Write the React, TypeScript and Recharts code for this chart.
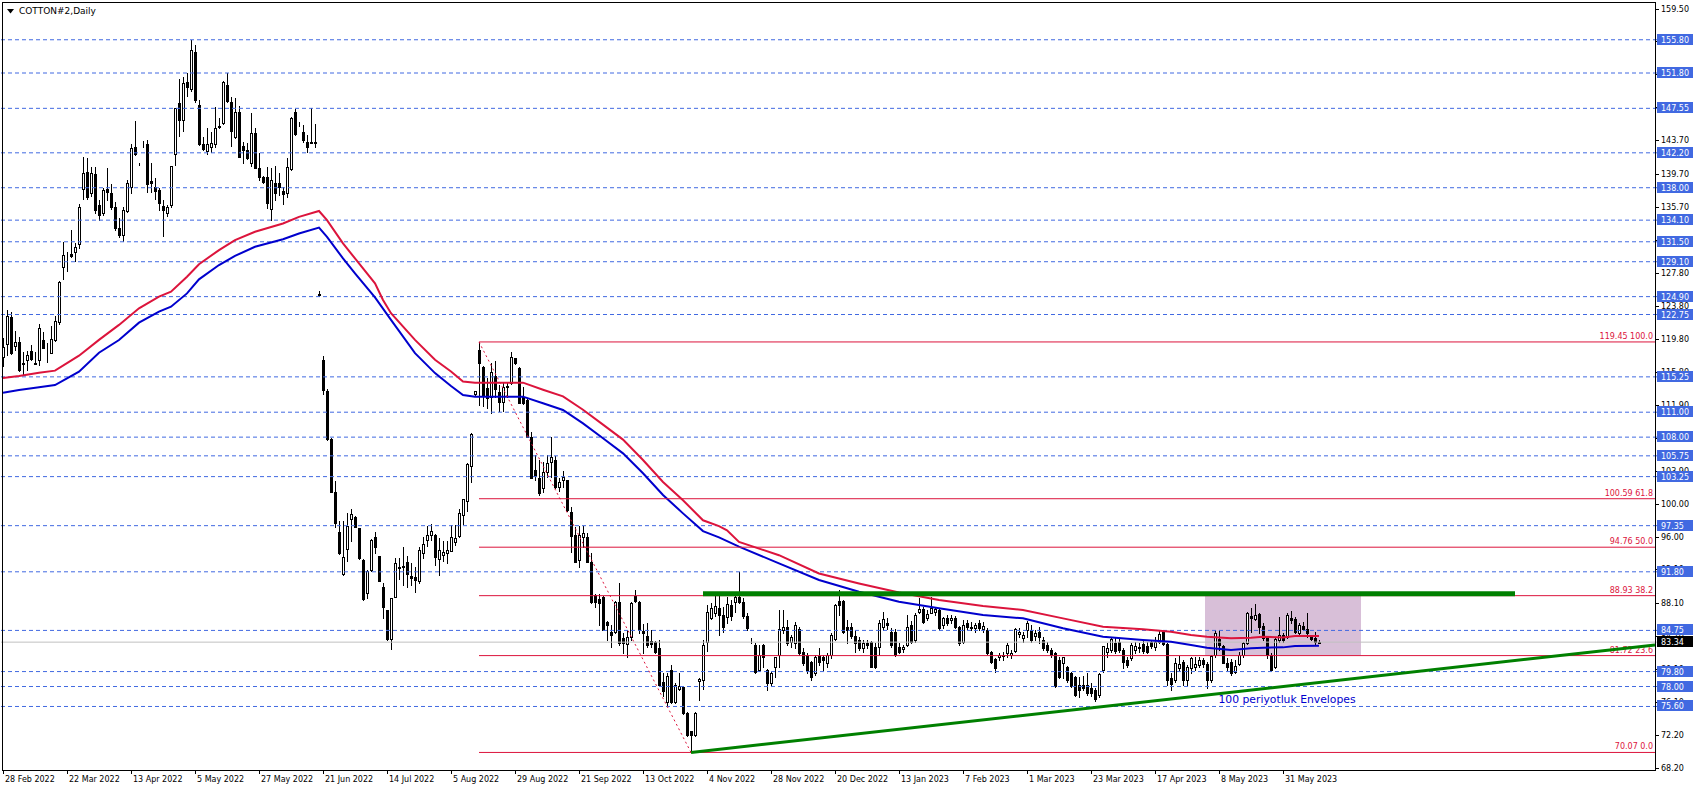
import React from 'react';
import {
  Bar,
  ComposedChart,
  Line,
  ReferenceArea,
  ReferenceDot,
  ReferenceLine,
  XAxis,
  YAxis,
} from 'recharts';

type Ohlc = [number, number, number, number];

// daily candles, [open, high, low, close]
const spring2022: Ohlc[] = [
  [117.6, 119.88, 116.55, 118.8], [119.16, 123.29, 117.88, 122.57], [122.41, 123.09, 118.0, 118.08], [119.0, 120.8, 118.48, 119.4],
  [119.4, 120.0, 116.0, 116.07], [116.9, 118.28, 115.47, 116.8], [117.28, 118.36, 116.07, 117.88], [118.36, 119.08, 117.3, 117.4],
  [116.9, 118.28, 116.8, 116.85], [117.28, 121.6, 116.67, 121.08], [119.68, 120.68, 118.68, 118.76], [118.6, 119.3, 117.0, 118.55],
  [118.16, 121.36, 118.1, 119.76], [119.68, 122.57, 119.56, 121.97], [121.8, 126.75, 121.6, 126.7], [128.5, 131.51, 126.98, 129.87],
  [130.0, 130.31, 128.02, 130.05], [130.0, 132.91, 129.71, 129.8], [130.23, 131.31, 129.18, 130.91], [131.2, 136.0, 130.8, 135.7],
  [137.81, 141.74, 136.6, 139.81], [139.93, 141.53, 136.6, 136.92], [137.33, 140.5, 137.0, 139.73], [139.65, 140.53, 134.92, 135.32],
  [135.92, 136.52, 134.12, 134.72], [134.92, 138.0, 134.7, 137.73], [137.85, 140.33, 136.52, 137.45], [137.41, 138.5, 135.5, 135.72],
  [135.64, 136.32, 132.91, 133.11], [133.11, 134.32, 132.11, 132.27], [132.31, 135.72, 131.63, 135.32], [135.24, 138.93, 135.12, 138.53],
  [138.05, 143.26, 137.33, 142.74], [142.94, 146.03, 141.94, 142.06], [140.85, 140.95, 140.7, 140.8], [143.05, 143.66, 142.9, 143.0],
  [143.22, 143.74, 137.53, 138.41], [138.81, 140.93, 137.53, 138.61], [138.13, 139.21, 136.6, 137.65], [137.73, 138.01, 135.32, 136.2],
];

const summer2022: Ohlc[] = [
  [135.8, 136.52, 132.23, 135.32], [135.0, 135.92, 134.64, 135.64], [135.92, 140.65, 135.72, 140.61], [142.02, 147.6, 140.73, 147.55],
  [148.15, 151.04, 144.22, 146.15], [146.1, 151.36, 144.86, 150.56], [150.76, 151.76, 149.07, 150.07], [149.83, 155.77, 149.63, 154.57],
  [154.37, 155.17, 148.35, 148.55], [147.95, 148.55, 143.14, 143.26], [143.26, 144.14, 142.54, 142.66], [142.46, 145.14, 142.06, 143.26],
  [142.94, 144.66, 142.26, 143.34], [143.26, 147.75, 142.94, 145.14], [145.3, 146.35, 145.14, 145.4], [145.74, 150.8, 145.7, 150.76],
  [150.36, 151.84, 148.35, 148.47], [148.27, 148.95, 143.02, 144.86], [144.06, 148.75, 144.0, 147.15], [147.15, 147.87, 141.7, 141.74],
  [143.02, 143.54, 141.01, 142.54], [142.54, 143.34, 141.5, 141.53], [140.93, 146.95, 140.61, 144.54], [144.54, 145.14, 140.33, 140.41],
  [140.41, 142.14, 138.93, 139.25], [139.25, 139.41, 138.6, 138.65], [139.25, 140.53, 135.52, 136.12], [135.4, 140.33, 134.12, 138.93],
  [138.53, 140.65, 136.52, 137.41], [138.61, 139.73, 137.12, 138.13], [137.65, 138.13, 136.04, 137.25], [137.33, 141.53, 136.92, 140.53],
  [140.21, 146.55, 140.13, 146.43], [147.15, 147.43, 144.34, 144.46], [145.8, 145.94, 145.42, 145.74], [144.66, 145.54, 143.46, 143.74],
  [143.54, 144.34, 142.34, 142.94], [143.5, 147.55, 143.34, 143.4], [143.5, 145.66, 142.94, 143.4], [125.1, 125.6, 125.0, 125.2],
];

const crash2022: Ohlc[] = [
  [117.28, 117.76, 113.19, 113.67], [113.59, 113.75, 107.7, 107.73], [107.73, 107.86, 101.4, 101.44], [101.36, 102.72, 97.23, 97.71],
  [96.55, 97.95, 94.0, 94.02], [91.5, 97.95, 91.45, 93.54], [94.5, 98.91, 93.14, 97.35], [98.11, 99.31, 95.55, 98.71],
  [98.43, 98.5, 97.2, 97.23], [97.03, 97.1, 93.4, 93.42], [93.22, 93.3, 88.45, 88.49], [89.21, 92.0, 88.61, 91.94],
  [92.02, 95.7, 91.94, 95.63], [96.03, 96.55, 94.02, 94.82], [93.7, 93.75, 90.7, 90.73], [89.93, 90.5, 86.2, 87.53],
  [87.2, 87.25, 83.6, 83.68], [83.68, 88.65, 82.47, 88.61], [88.81, 93.42, 88.75, 92.82], [92.2, 93.42, 90.98, 92.4],
  [92.5, 94.74, 90.21, 92.4], [92.94, 93.7, 90.01, 91.54], [91.3, 92.82, 90.21, 91.0], [91.2, 92.42, 89.41, 90.8],
  [90.73, 94.82, 90.5, 94.42], [94.02, 95.94, 93.42, 95.1], [95.63, 97.31, 94.9, 96.23], [96.23, 97.55, 95.63, 96.71],
  [96.23, 96.3, 92.62, 93.62], [93.3, 95.83, 91.42, 94.42], [93.82, 95.55, 93.14, 94.14], [94.02, 95.55, 92.82, 94.42],
  [94.34, 97.43, 94.3, 95.94], [95.43, 97.43, 95.03, 95.83], [96.15, 99.31, 95.94, 98.91], [98.63, 100.6, 97.55, 100.52],
  [100.36, 104.85, 99.15, 104.77], [104.53, 108.46, 102.64, 108.42], [113.19, 113.6, 112.9, 113.55], [118.48, 119.45, 111.87, 116.88],
];

const autumn2022: Ohlc[] = [
  [116.48, 116.5, 111.74, 113.07], [113.87, 115.07, 111.46, 112.67], [112.87, 116.88, 110.94, 115.87], [115.35, 117.16, 112.87, 113.75],
  [113.47, 114.27, 111.18, 112.27], [112.27, 114.47, 111.18, 113.99], [114.07, 114.67, 112.87, 114.17], [114.47, 118.28, 114.4, 117.68],
  [117.48, 117.5, 116.8, 116.88], [116.36, 116.4, 112.1, 112.15], [112.87, 113.99, 112.0, 112.07], [112.47, 112.67, 108.0, 108.06],
  [108.06, 108.66, 103.1, 103.12], [104.05, 105.85, 102.84, 103.33], [103.12, 105.25, 101.04, 101.32], [101.84, 105.05, 101.44, 103.85],
  [103.85, 105.85, 103.24, 104.93], [105.05, 108.06, 103.24, 105.65], [105.25, 105.73, 101.84, 102.04], [102.04, 103.04, 101.56, 102.64],
  [102.84, 103.96, 102.04, 103.24], [102.84, 102.9, 99.15, 99.24], [98.99, 99.63, 94.22, 96.11], [96.23, 97.23, 93.0, 93.02],
  [93.22, 97.31, 92.42, 96.23], [95.94, 97.31, 94.82, 96.43], [96.03, 96.43, 93.0, 93.02], [93.02, 94.02, 88.09, 88.21],
  [89.01, 89.13, 87.61, 88.21], [88.53, 89.13, 85.4, 88.09], [88.81, 88.85, 84.8, 84.84], [85.8, 85.85, 83.6, 85.4],
  [84.6, 85.4, 82.8, 84.2], [84.6, 88.3, 84.4, 88.21], [88.21, 90.41, 83.0, 83.28], [83.8, 84.4, 82.0, 83.2],
  [83.12, 84.8, 81.51, 83.92], [84.0, 88.2, 83.6, 88.09], [88.89, 89.61, 88.2, 88.33], [88.21, 88.3, 84.4, 84.8],
  [84.72, 85.52, 82.07, 84.4], [84.08, 85.68, 82.8, 82.99], [83.52, 84.8, 82.72, 83.12], [83.4, 83.52, 82.07, 82.2],
  [82.6, 83.6, 78.14, 78.18], [78.58, 79.59, 76.86, 77.5], [76.18, 79.67, 75.78, 79.27], [79.99, 80.59, 76.06, 76.18],
  [76.18, 78.38, 75.98, 78.18], [77.66, 79.59, 77.58, 78.06], [77.98, 78.0, 74.7, 74.77], [74.77, 74.97, 72.05, 72.17],
  [72.69, 72.7, 70.07, 72.17], [72.17, 74.9, 72.1, 74.85], [78.7, 78.98, 76.38, 78.86], [78.78, 83.6, 77.66, 82.99],
  [83.4, 87.81, 82.31, 87.01], [86.2, 88.09, 86.08, 87.41], [86.8, 89.21, 86.48, 87.69], [87.41, 89.21, 84.2, 86.6],
];

const winter2023: Ohlc[] = [
  [86.6, 87.6, 84.6, 85.2], [86.32, 88.81, 85.6, 87.93], [87.8, 88.4, 86.0, 86.5], [88.2, 89.0, 87.0, 88.8],
  [88.8, 91.8, 88.0, 88.2], [88.2, 88.6, 86.2, 86.5], [86.5, 86.8, 84.8, 85.0], [83.3, 83.8, 83.25, 83.35],
  [83.0, 83.2, 79.6, 79.8], [80.0, 83.0, 79.9, 81.8], [83.0, 83.1, 80.4, 81.6], [80.0, 80.1, 77.6, 78.4],
  [78.4, 79.8, 78.2, 79.6], [80.4, 81.6, 79.2, 81.6], [81.8, 87.2, 80.4, 84.9], [84.8, 87.2, 84.4, 85.2],
  [85.2, 86.0, 83.0, 83.2], [83.4, 84.2, 82.8, 84.0], [83.2, 85.8, 82.6, 85.4], [84.9, 85.2, 81.8, 82.0],
  [82.2, 82.6, 80.6, 80.8], [81.8, 82.0, 79.6, 80.0], [81.0, 81.1, 78.8, 79.2], [79.6, 81.8, 79.4, 81.6],
  [81.7, 82.6, 80.6, 81.0], [81.6, 81.8, 80.0, 81.2], [80.8, 82.0, 80.4, 81.8], [81.8, 84.4, 81.4, 84.2],
  [83.7, 87.9, 83.6, 87.8], [88.3, 89.6, 86.6, 87.8], [88.3, 88.4, 84.4, 84.6], [85.2, 86.0, 83.2, 84.8],
  [85.2, 85.6, 83.8, 84.1], [84.1, 84.8, 82.2, 83.2], [83.6, 84.0, 82.4, 82.6], [82.6, 83.6, 82.2, 83.2],
  [83.2, 83.6, 82.6, 83.0], [83.4, 83.5, 80.3, 80.4], [82.8, 83.2, 80.2, 80.4], [82.8, 86.0, 81.8, 85.6],
  [85.2, 87.0, 84.8, 86.1], [85.7, 86.3, 84.9, 85.4], [84.6, 85.0, 82.8, 83.0], [84.5, 84.9, 81.7, 81.8],
  [82.7, 83.2, 82.0, 82.2], [82.5, 83.0, 82.2, 82.7], [83.0, 86.6, 82.9, 85.2], [85.4, 85.9, 83.2, 83.4],
  [83.6, 86.8, 83.4, 86.6], [87.0, 88.6, 86.8, 87.3], [87.3, 87.6, 85.6, 85.8], [86.2, 87.2, 86.0, 86.7],
  [86.9, 88.8, 86.8, 87.4], [87.0, 87.6, 86.6, 87.3], [87.2, 87.4, 84.8, 85.0], [85.4, 86.4, 85.0, 86.2],
  [86.2, 86.6, 85.4, 85.6], [86.0, 86.6, 85.6, 86.3], [86.2, 86.5, 85.0, 85.2], [85.2, 85.3, 83.0, 83.2],
];

const spring2023: Ohlc[] = [
  [83.4, 86.0, 83.2, 85.4], [85.6, 86.0, 84.9, 85.2], [85.2, 85.8, 84.8, 85.1], [85.0, 85.6, 84.6, 85.4],
  [85.6, 86.0, 84.8, 85.0], [84.9, 85.8, 84.5, 85.3], [84.8, 85.0, 81.95, 82.0], [82.2, 82.3, 80.8, 81.0],
  [81.3, 81.4, 79.8, 80.2], [81.6, 82.0, 81.2, 81.8], [81.8, 82.2, 81.2, 81.7], [82.0, 83.2, 81.6, 83.0],
  [81.8, 82.4, 81.4, 82.0], [82.3, 85.0, 82.2, 84.9], [84.3, 85.0, 84.0, 84.6], [83.8, 84.6, 83.4, 84.2],
  [84.8, 85.9, 84.0, 85.6], [84.8, 85.4, 83.4, 83.6], [84.1, 84.8, 83.6, 84.4], [84.6, 85.2, 83.2, 84.0],
  [83.6, 84.0, 82.4, 82.6], [83.0, 83.4, 82.2, 82.4], [82.4, 82.6, 81.6, 81.8], [82.0, 82.1, 78.0, 78.1],
  [81.2, 81.6, 79.0, 79.2], [80.8, 81.6, 79.0, 81.6], [80.4, 80.5, 78.6, 78.8], [79.6, 79.8, 78.0, 78.05],
  [79.2, 79.3, 76.9, 77.0], [78.2, 79.2, 76.8, 77.6], [78.2, 79.3, 77.6, 77.8], [78.2, 79.6, 77.0, 77.2],
  [77.8, 78.4, 76.9, 77.2], [77.6, 77.8, 76.2, 76.5], [77.0, 79.6, 76.8, 79.55], [80.0, 82.9, 79.8, 82.85],
  [82.2, 83.2, 81.6, 82.6], [82.4, 83.8, 82.2, 83.7], [83.2, 84.0, 82.0, 82.3], [83.4, 83.8, 82.2, 82.4],
  [82.4, 82.6, 80.2, 81.0], [81.2, 81.6, 80.4, 80.6], [81.4, 83.2, 81.2, 83.0], [82.4, 83.4, 82.0, 82.9],
  [82.6, 83.2, 82.2, 82.8], [83.1, 83.6, 82.0, 82.3], [82.9, 83.3, 82.0, 82.1], [83.39, 83.6, 82.6, 82.87],
  [82.79, 83.99, 82.39, 83.39], [83.39, 84.79, 83.19, 84.27],
];

const recent2023: Ohlc[] = [
  [84.59, 84.79, 82.99, 83.11], [83.11, 83.2, 78.2, 78.78], [79.0, 79.6, 77.6, 78.3], [78.78, 81.39, 78.6, 80.78],
  [80.18, 81.67, 79.98, 80.66], [80.98, 81.2, 78.2, 78.78], [78.78, 80.6, 78.2, 80.38], [80.18, 81.6, 79.6, 81.39],
  [80.38, 81.51, 79.98, 80.7], [80.58, 81.59, 80.38, 81.18], [81.18, 81.4, 80.4, 80.7], [80.66, 81.0, 77.8, 78.78],
  [78.78, 81.8, 78.6, 81.67], [81.79, 84.79, 81.59, 84.39], [83.67, 84.79, 82.39, 82.99], [82.87, 82.99, 80.78, 80.86],
  [80.86, 81.39, 79.98, 80.38], [80.98, 81.3, 79.4, 79.58], [79.78, 81.18, 79.58, 80.46], [80.7, 82.19, 80.58, 81.79],
  [81.79, 83.39, 81.59, 83.27], [83.19, 87.0, 83.11, 86.88], [86.48, 87.48, 84.59, 86.2], [86.08, 87.92, 86.0, 86.6],
  [86.72, 86.88, 84.47, 85.11], [85.27, 85.6, 83.59, 83.79], [83.79, 83.99, 81.39, 81.79], [81.79, 81.99, 79.9, 79.98],
  [80.38, 83.79, 80.18, 83.67], [83.59, 86.4, 83.39, 84.19], [84.19, 84.39, 83.39, 83.59], [83.99, 86.88, 83.79, 86.6],
  [86.2, 87.12, 85.6, 86.0], [86.08, 86.4, 84.39, 84.59], [84.39, 85.6, 84.3, 85.39], [85.27, 85.8, 84.79, 84.87],
  [84.87, 86.88, 83.99, 84.47], [84.07, 84.2, 83.6, 83.67], [83.79, 84.59, 82.99, 83.39], [83.27, 83.6, 83.2, 83.34],
];

// 100-period envelopes, read at [bar, price]
const envUpper: [number, number][] = [
  [0, 115.1], [4, 115.35], [9, 115.75], [13, 116.0], [16, 116.9], [19, 117.8], [24, 119.7], [29, 121.5],
  [34, 123.5], [39, 124.9], [42, 125.5], [46, 127.3], [49, 128.8], [54, 130.5], [58, 131.7], [63, 132.7],
  [70, 133.7], [74, 134.5], [79, 135.2], [81, 134.1], [85, 131.3], [88, 129.5], [93, 126.5], [95, 124.5],
  [97, 122.9], [103, 119.7], [108, 117.3], [112, 115.9], [115, 114.7], [118, 114.55], [126, 114.55], [130, 114.55],
  [135, 113.7], [140, 112.9], [145, 111.3], [150, 109.5], [155, 107.7], [160, 105.25], [165, 102.6], [170, 100.4],
  [175, 98.0], [179, 97.3], [181, 96.8], [184, 95.4], [194, 93.8], [204, 91.6], [214, 90.4], [224, 89.3],
  [234, 88.4], [245, 87.7], [255, 87.2], [265, 86.2], [275, 85.2], [285, 84.9], [292, 84.6], [297, 84.2],
  [301, 84.0], [307, 83.8], [312, 83.87], [315, 84.0], [320, 83.9], [323, 84.07], [329, 84.07],
];

const envLower: [number, number][] = [
  [0, 113.35], [4, 113.67], [9, 113.99], [13, 114.27], [16, 115.07], [19, 115.87], [24, 118.16], [29, 119.68],
  [34, 121.77], [39, 123.09], [42, 123.69], [46, 125.29], [49, 126.98], [54, 128.7], [58, 129.8], [63, 130.9],
  [70, 131.8], [74, 132.5], [79, 133.2], [81, 132.1], [85, 129.5], [88, 127.7], [93, 124.8], [97, 122.1],
  [103, 118.1], [108, 115.7], [112, 114.15], [115, 113.07], [118, 112.87], [126, 112.87], [130, 112.87], [135, 112.07],
  [140, 111.26], [145, 109.66], [150, 107.86], [155, 106.05], [160, 103.65], [165, 101.04], [170, 98.83], [175, 96.7],
  [179, 95.94], [184, 94.83], [194, 92.82], [204, 90.82], [214, 89.41], [224, 88.21], [234, 87.41], [245, 86.61],
  [255, 86.2], [265, 85.0], [275, 84.0], [285, 83.6], [292, 83.39], [297, 82.99], [301, 82.67], [307, 82.39],
  [312, 82.59], [315, 82.67], [320, 82.71], [323, 82.87], [329, 82.91],
];

const dateLabels = [
  '28 Feb 2022', '22 Mar 2022', '13 Apr 2022', '5 May 2022', '27 May 2022', '21 Jun 2022', '14 Jul 2022',
  '5 Aug 2022', '29 Aug 2022', '21 Sep 2022', '13 Oct 2022', '4 Nov 2022', '28 Nov 2022', '20 Dec 2022',
  '13 Jan 2023', '7 Feb 2023', '1 Mar 2023', '23 Mar 2023', '17 Apr 2023', '8 May 2023', '31 May 2023',
];
const BARS_PER_DATE_TICK = 16;

const axisPrices = [
  159.5, 155.6, 151.7, 147.7, 143.7, 139.7, 135.7, 131.7, 127.8, 123.8, 119.8, 115.8,
  111.9, 107.9, 103.9, 100.0, 96.0, 92.1, 88.1, 84.1, 80.1, 76.1, 72.2, 68.2,
];
const levelPrices = [
  155.8, 151.8, 147.55, 142.2, 138.0, 134.1, 131.5, 129.1, 124.9, 122.75, 115.25, 111.0,
  108.0, 105.75, 103.25, 97.35, 91.8, 84.75, 79.8, 78.0, 75.6,
];
const lastPrice = 83.34;

const fibPrices = [119.45, 100.59, 94.76, 88.93, 81.72, 70.07];
const fibRatios = ['100.0', '61.8', '50.0', '38.2', '23.6', '0.0'];
const fibFrom = { bar: 119, price: 119.45 };
const fibTo = { bar: 172, price: 70.07 };

const supportLine = [{ bar: 172, price: 70.07 }, { bar: 413, price: 83.0 }];
const resistance = { from: 175, to: 378, price: 89.15 };
const boxZone = { from: 301, to: 339, top: 88.93, bottom: 81.72 };
const noteText = { bar: 321, price: 76.5, text: '100 periyotluk Envelopes' };

const TOTAL_SLOTS = 414;
const FONT = '"DejaVu Sans", Verdana, sans-serif';
const LEVEL_BLUE = '#4169E1';
const RED = '#DC143C';
const ENV_BLUE = '#0000CD';

const candles: Ohlc[] = [
  ...spring2022, ...summer2022, ...crash2022, ...autumn2022, ...winter2023, ...spring2023, ...recent2023,
];

const rows: any[] = Array.from({ length: TOTAL_SLOTS }, (_, i) => {
  const k = candles[i];
  return k ? { i, o: k[0], h: k[1], l: k[2], c: k[3] } : { i };
});
envUpper.forEach(([b, v]) => (rows[b].up = v));
envLower.forEach(([b, v]) => (rows[b].dn = v));

const levelSet = new Set(levelPrices);
const dateTicks = dateLabels.map((_, k) => k * BARS_PER_DATE_TICK);

function Candle(props: any) {
  const { x, y, width, height, payload } = props;
  if (!payload || payload.h == null) return null;
  const top = Math.min(y, y + height);
  const bot = Math.max(y, y + height);
  const { o, h, l, c } = payload;
  const k = (bot - top) / (h - l);
  const py = (v: number) => top + (h - v) * k;
  const cx = Math.floor(x + width / 2);
  const bt = Math.round(py(Math.max(o, c)));
  const bb = Math.round(py(Math.min(o, c)));
  return (
    <g shapeRendering="crispEdges">
      <line x1={cx + 0.5} x2={cx + 0.5} y1={Math.round(top)} y2={Math.round(bot) + 1} stroke="#000" />
      <rect
        x={cx - 0.5}
        y={bt + 0.5}
        width={2}
        height={Math.max(bb - bt, 0)}
        fill={c >= o ? '#fff' : '#000'}
        stroke="#000"
      />
    </g>
  );
}

function PriceTick({ y, payload }: any) {
  const v = payload.value as number;
  const yy = Math.round(y);
  const txt = v.toFixed(2);
  if (v === lastPrice || levelSet.has(v)) {
    return (
      <g>
        <rect x={1657} y={yy - 6} width={36} height={11} fill={v === lastPrice ? '#000' : LEVEL_BLUE} />
        <text x={1661} y={yy + 3} fill="#fff" fontSize={8} fontFamily={FONT}>
          {txt}
        </text>
      </g>
    );
  }
  return (
    <g>
      <line x1={1655} x2={1659} y1={yy + 0.5} y2={yy + 0.5} stroke="#000" />
      <text x={1661} y={yy + 3} fill="#000" fontSize={8} fontFamily={FONT}>
        {txt}
      </text>
    </g>
  );
}

function DateTick({ x, payload }: any) {
  const cx = Math.floor(x);
  const label = dateLabels[payload.value / BARS_PER_DATE_TICK];
  return (
    <g>
      <line x1={cx + 0.5} x2={cx + 0.5} y1={770} y2={774} stroke="#000" />
      <text x={cx + 2} y={782} fill="#000" fontSize={8} fontFamily={FONT}>
        {label}
      </text>
    </g>
  );
}

function fibLabel(text: string) {
  return (p: any) => {
    const vb = p.viewBox;
    return (
      <text x={vb.x + vb.width - 2} y={vb.y - 3} textAnchor="end" fill={RED} fontSize={8} fontFamily={FONT}>
        {text}
      </text>
    );
  };
}

function noteLabel(p: any) {
  const vb = p.viewBox;
  return (
    <text
      x={vb.x + vb.width / 2}
      y={vb.y + vb.height / 2 + 4}
      textAnchor="middle"
      fill={ENV_BLUE}
      fontSize={10.8}
      fontFamily={FONT}
    >
      {noteText.text}
    </text>
  );
}

export default function App() {
  return (
    <div style={{ position: 'absolute', left: 0, top: 0, width: 1695, height: 791, background: '#fff', overflow: 'hidden' }}>
      <ComposedChart
        width={1695}
        height={791}
        data={rows}
        margin={{ top: 2, right: 0, bottom: 0, left: 1 }}
        barCategoryGap={0}
      >
        <XAxis
          dataKey="i"
          type="category"
          height={21}
          ticks={dateTicks}
          interval={0}
          axisLine={false}
          tickLine={false}
          tick={<DateTick />}
        />
        <YAxis
          orientation="right"
          width={38}
          type="number"
          domain={[67.959, 160.342]}
          allowDataOverflow
          ticks={[...axisPrices, ...levelPrices, lastPrice]}
          interval={0}
          axisLine={false}
          tickLine={false}
          tick={<PriceTick />}
        />
        <ReferenceArea
          x1={boxZone.from}
          x2={boxZone.to}
          y1={boxZone.bottom}
          y2={boxZone.top}
          fill="#D8BFD8"
          fillOpacity={1}
          stroke="none"
        />
        {levelPrices.map((v) => (
          <ReferenceLine key={'lv' + v} y={v} stroke={LEVEL_BLUE} strokeDasharray="4 3" />
        ))}
        <ReferenceLine y={lastPrice} stroke="#C0C0C0" />
        <Bar
          dataKey={(d: any) => (d.h == null ? null : [d.l, d.h])}
          shape={<Candle />}
          isAnimationActive={false}
        />
        <Line dataKey="up" stroke={RED} strokeWidth={2} dot={false} connectNulls type="linear" isAnimationActive={false} />
        <Line dataKey="dn" stroke={ENV_BLUE} strokeWidth={2} dot={false} connectNulls type="linear" isAnimationActive={false} />
        {fibPrices.map((v, k) => (
          <ReferenceLine
            key={'fib' + v}
            segment={[{ x: fibFrom.bar, y: v }, { x: TOTAL_SLOTS - 1, y: v }]}
            stroke={RED}
            label={fibLabel(`${v.toFixed(2)} ${fibRatios[k]}`)}
          />
        ))}
        <ReferenceLine
          segment={[{ x: fibFrom.bar, y: fibFrom.price }, { x: fibTo.bar, y: fibTo.price }]}
          stroke={RED}
          strokeDasharray="2 3"
        />
        <ReferenceLine
          segment={[{ x: resistance.from, y: resistance.price }, { x: resistance.to, y: resistance.price }]}
          stroke="#008000"
          strokeWidth={5}
        />
        <ReferenceLine
          segment={[{ x: supportLine[0].bar, y: supportLine[0].price }, { x: supportLine[1].bar, y: supportLine[1].price }]}
          stroke="#008000"
          strokeWidth={3}
        />
        <ReferenceDot x={noteText.bar} y={noteText.price} r={1} fill="none" stroke="none" label={noteLabel} />
      </ComposedChart>
      <div
        style={{
          position: 'absolute',
          left: 2,
          top: 2,
          width: 1654,
          height: 769,
          border: '1px solid #000',
          boxSizing: 'border-box',
          pointerEvents: 'none',
        }}
      />
      <div
        style={{
          position: 'absolute',
          left: 7,
          top: 4,
          fontFamily: FONT,
          fontSize: 9,
          color: '#000',
          display: 'flex',
          alignItems: 'center',
          lineHeight: '14px',
        }}
      >
        <svg width={7} height={5} style={{ marginRight: 5 }}>
          <polygon points="0,0 7,0 3.5,4.5" fill="#000" />
        </svg>
        COTTON#2,Daily
      </div>
    </div>
  );
}
